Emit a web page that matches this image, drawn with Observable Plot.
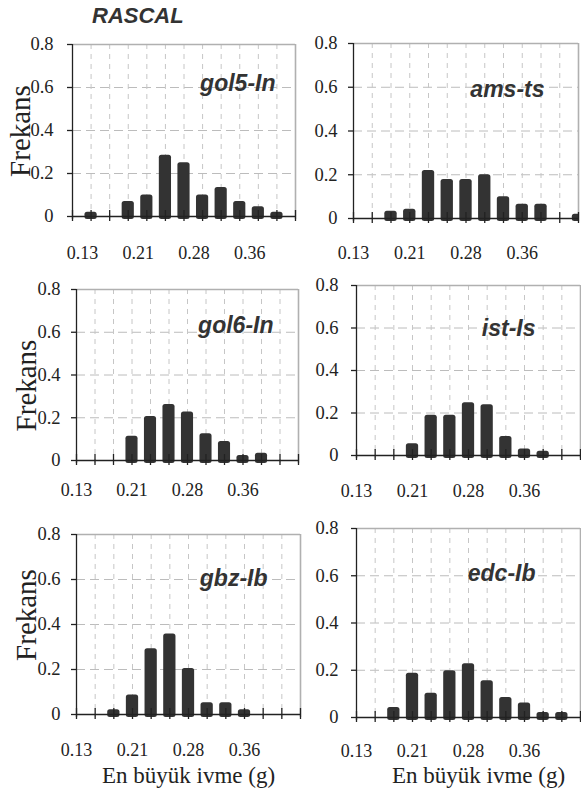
<!DOCTYPE html>
<html><head><meta charset="utf-8">
<script src="https://cdn.jsdelivr.net/npm/d3@7"></script>
<script src="https://cdn.jsdelivr.net/npm/@observablehq/plot@0.6"></script>
<style>
body{margin:0;background:#fff;}
#wrap{position:relative;width:581px;height:799px;overflow:hidden;background:#fff;}
#title{position:absolute;left:92px;top:5px;font:italic bold 22px 'Liberation Sans',Arial,sans-serif;color:#333;line-height:22px;white-space:nowrap;}
</style></head><body>
<div id="wrap"><div id="title">RASCAL</div></div>
<script>
// ---- data ----
const bins = [0.13, 0.155, 0.18, 0.205, 0.23, 0.255, 0.28, 0.305, 0.33, 0.355, 0.38, 0.405, 0.43];
const gol5ln = [0, 0.02, 0, 0.07, 0.10, 0.285, 0.25, 0.10, 0.135, 0.07, 0.045, 0.02, 0];
const amsts  = [0, 0, 0.033, 0.042, 0.22, 0.178, 0.178, 0.20, 0.10, 0.065, 0.065, 0, 0.02];
const gol6ln = [0, 0, 0, 0.114, 0.206, 0.262, 0.227, 0.125, 0.089, 0.023, 0.034, 0, 0];
const istls  = [0, 0, 0, 0.055, 0.19, 0.19, 0.248, 0.239, 0.089, 0.031, 0.02, 0, 0];
const gbzlb  = [0, 0, 0.021, 0.087, 0.292, 0.358, 0.204, 0.052, 0.052, 0.021, 0, 0, 0];
const edclb  = [0, 0, 0.042, 0.187, 0.103, 0.198, 0.227, 0.156, 0.085, 0.061, 0.021, 0.021, 0];
const stationNames = ["gol5-In", "ams-ts", "gol6-In", "ist-Is", "gbz-Ib", "edc-Ib"];
const yTicks = [0, 0.2, 0.4, 0.6, 0.8];
const yTickLabels = ["0", "0.2", "0.4", "0.6", "0.8"];
const yGrid = [0.2, 0.4, 0.6];
const xTickValues = [0.13, 0.205, 0.28, 0.355];
const xTickLabels = ["0.13", "0.21", "0.28", "0.36"];
const yTitle = "Frekans";
const xTitle = "En büyük ivme (g)";
const binWidth = 0.025;

// ---- layout (pixels) ----
const layout = [
  {values: gol5ln, left: 0,   top: 30,  width: 300, height: 235, ml: 72, mr: 5, mt: 14, mb: 46, ypad: 14, xdy: 42, xdx: 10, ndx: -20, ndy: 46, frek: [-52, -1]},
  {values: amsts,  left: 290, top: 30,  width: 291, height: 235, ml: 63, mr: 3, mt: 13, mb: 44, ypad: 11, xdy: 40, xdx: 0,  ndx: -34, ndy: 53},
  {values: gol6ln, left: 0,   top: 275, width: 300, height: 230, ml: 76, mr: 2, mt: 14, mb: 42, ypad: 11, xdy: 35, xdx: 0,  ndx: -25, ndy: 43, frek: [-50, 9]},
  {values: istls,  left: 290, top: 272, width: 291, height: 233, ml: 66, mr: 1, mt: 13, mb: 47, ypad: 13, xdy: 41, xdx: 0,  ndx: -45, ndy: 50},
  {values: gbzlb,  left: 0,   top: 520, width: 301, height: 279, ml: 76, mr: 1, mt: 14, mb: 82, ypad: 11, xdy: 41, xdx: 0,  ndx: -33, ndy: 51, frek: [-50, -11], xt: [0, 65]},
  {values: edclb,  left: 290, top: 514, width: 291, height: 285, ml: 66, mr: 1, mt: 14, mb: 79, ypad: 13, xdy: 39, xdx: 0,  ndx: -45, ndy: 52, xt: [10, 62]}
];

const serif = "Liberation Serif";
const sans = "Liberation Sans";
const wrap = document.getElementById("wrap");

layout.forEach((p, k) => {
  const data = bins.map((g, i) => ({g, f: p.values[i]})).filter(d => d.f > 0);
  const marks = [
    Plot.ruleY(yGrid, {stroke: "#bcbcbc", strokeDasharray: "9,5", strokeWidth: 1}),
    Plot.ruleX(bins.slice(1, -1), {stroke: "#c6c6c6", strokeDasharray: "5,5", strokeWidth: 1}),
    Plot.ruleY([yTicks[yTicks.length - 1]], {stroke: "#b0b0b0", strokeWidth: 1.6}),
    Plot.ruleX([bins[bins.length - 1]], {stroke: "#b0b0b0", strokeWidth: 1.6}),
    Plot.rectY(data, {x1: d => d.g - binWidth / 2, x2: d => d.g + binWidth / 2, y: "f", fill: "#333",
      insetLeft: 3.2, insetRight: 3.2, insetBottom: -3, rx: 2.5, clip: true}),
    Plot.ruleX([bins[0]], {stroke: "#222", strokeWidth: 1.3}),
    Plot.ruleY([0], {stroke: "#222", strokeWidth: 1.5}),
    Plot.ruleX(bins, {x: d => d, y1: 0, y2: 0, insetTop: -6, insetBottom: -5, stroke: "#222", strokeWidth: 1.3}),
    Plot.ruleY(yTicks, {y: d => d, x1: bins[0], x2: bins[0], insetLeft: -5, stroke: "#222", strokeWidth: 1.3}),
    Plot.text(yTicks, {x: bins[0], y: d => d, text: (d, i) => yTickLabels[i], textAnchor: "end",
      dx: -(5 + p.ypad), fontFamily: serif, fontSize: 18.5, fill: "#222"}),
    Plot.text(xTickValues, {x: d => d, y: 0, text: (d, i) => xTickLabels[i], lineAnchor: "bottom",
      dy: p.xdy, dx: p.xdx, fontFamily: serif, fontSize: 18, fill: "#222"}),
    Plot.text([stationNames[k]], {text: d => d, frameAnchor: "top-right", textAnchor: "end", lineAnchor: "bottom",
      dx: p.ndx, dy: p.ndy, fontFamily: sans, fontSize: 23, fontWeight: "bold", fontStyle: "italic", fill: "#333"})
  ];
  if (p.frek) marks.push(Plot.text([yTitle], {text: d => d, frameAnchor: "left", textAnchor: "middle",
      lineAnchor: "middle", rotate: -90, dx: p.frek[0], dy: p.frek[1], fontFamily: serif, fontSize: 29, fill: "#222"}));
  if (p.xt) marks.push(Plot.text([xTitle], {text: d => d, frameAnchor: "bottom", textAnchor: "middle", lineAnchor: "bottom",
      dx: p.xt[0], dy: p.xt[1], fontFamily: serif, fontSize: 23, fill: "#222"}));

  const svg = Plot.plot({
    width: p.width, height: p.height,
    marginLeft: p.ml, marginRight: p.mr, marginTop: p.mt, marginBottom: p.mb,
    x: {domain: [bins[0], bins[bins.length - 1]], axis: null},
    y: {domain: [0, 0.8], axis: null, insetBottom: 3},
    style: {position: "absolute", left: p.left + "px", top: p.top + "px", background: "transparent",
            overflow: "visible", fontFamily: serif, fontSize: "17px", color: "#222"},
    marks
  });
  wrap.appendChild(svg);
});
</script>
</body></html>
